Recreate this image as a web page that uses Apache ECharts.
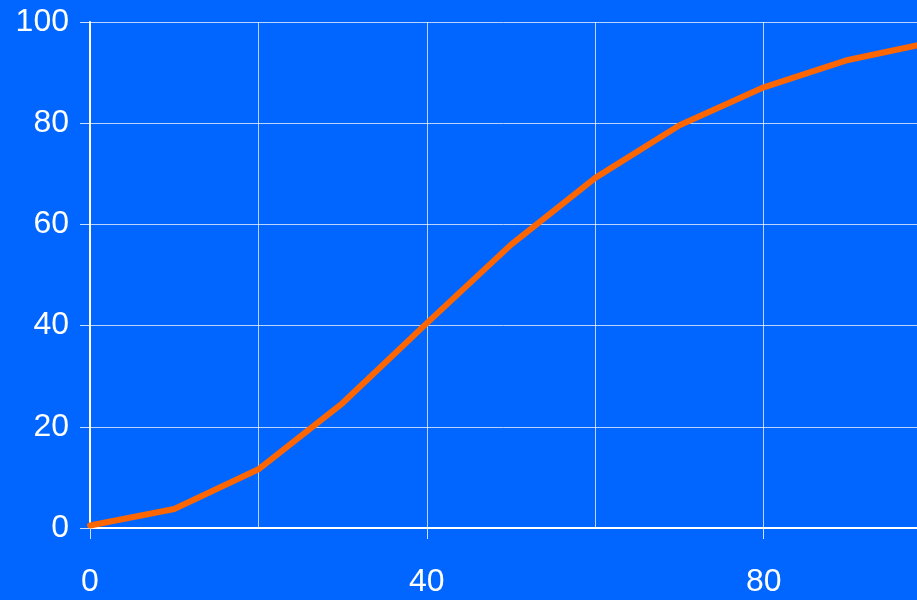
<!DOCTYPE html>
<html>
<head>
<meta charset="utf-8">
<style>
  html, body { margin: 0; padding: 0; background: #0066FF; }
  #chart { width: 917px; height: 600px; }
</style>
<script src="https://cdn.jsdelivr.net/npm/echarts@6/dist/echarts.min.js"></script>
</head>
<body>
<div id="chart"></div>
<script>
// Cumulative curve sampled every 10 units
const xValues = [0, 10, 20, 30, 40, 50, 60, 70, 80, 90, 100];
const yValues = [0.5, 3.75, 11.6, 24.7, 40.5, 56, 69.2, 79.6, 87.1, 92.5, 96];
const xTicks = [0, 40, 80];
const yTicks = [0, 20, 40, 60, 80, 100];

// visible x range ends just short of 100 (the curve runs off the right edge)
const xMax = 98.2;

const chart = echarts.init(document.getElementById('chart'));
const labelFont = { color: '#ffffff', fontSize: 32, fontFamily: 'Liberation Sans, Arial, sans-serif' };
const gridColor = 'rgba(255,255,255,0.72)';

chart.setOption({
  backgroundColor: '#0066FF',
  animation: false,
  grid: { left: 90, right: 0, top: 22, bottom: 72, containLabel: false },
  xAxis: [{
    // grid lines every 20
    type: 'value',
    min: 0,
    max: xMax,
    interval: 20,
    axisLine: { show: true, lineStyle: { color: '#ffffff', width: 2 } },
    axisTick: { show: false },
    axisLabel: { show: false },
    splitLine: { show: true, lineStyle: { color: gridColor, width: 1 } }
  }, {
    // labelled ticks every 40
    type: 'value',
    position: 'bottom',
    min: 0,
    max: xMax,
    interval: 40,
    axisLine: { show: false },
    axisTick: { show: true, length: 11, lineStyle: { color: 'rgba(255,255,255,0.8)', width: 1 } },
    axisLabel: Object.assign({ margin: 38, showMaxLabel: false,
      formatter: v => xTicks.includes(v) ? String(v) : '' }, labelFont),
    splitLine: { show: false }
  }],
  yAxis: {
    type: 'value',
    min: yTicks[0],
    max: yTicks[yTicks.length - 1],
    interval: 20,
    axisLine: { show: true, lineStyle: { color: '#ffffff', width: 2 } },
    axisTick: { show: true, length: 10, lineStyle: { color: 'rgba(255,255,255,0.8)', width: 1 } },
    axisLabel: Object.assign({ margin: 21 }, labelFont),
    splitLine: { show: true, lineStyle: { color: gridColor, width: 1 } }
  },
  series: [{
    type: 'line',
    xAxisIndex: 0,
    data: xValues.map((x, i) => [x, yValues[i]]),
    showSymbol: false,
    lineStyle: { color: '#FF6600', width: 6, join: 'round', cap: 'round' },
    clip: false
  }]
});
</script>
</body>
</html>
